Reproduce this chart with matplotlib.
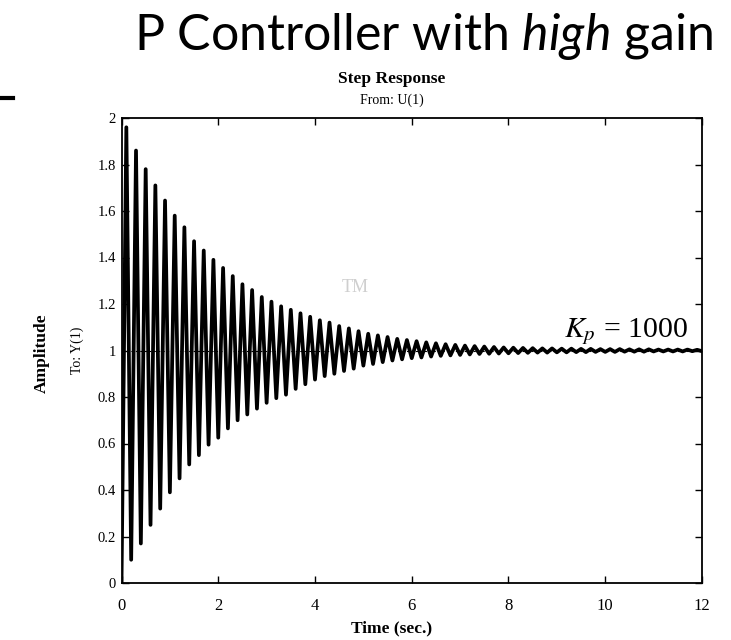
import numpy as np
import matplotlib.pyplot as plt
from matplotlib.lines import Line2D

plt.rcParams['font.family'] = 'Liberation Serif'
plt.rcParams['mathtext.fontset'] = 'custom'
plt.rcParams['mathtext.rm'] = 'Lato'
plt.rcParams['mathtext.it'] = 'Lato:italic'

# step response: one peak and one trough per cycle
first_peak_t = 0.1   # s
period = 0.2         # s, ~60 cycles over 12 s
peaks = [1.96, 1.86, 1.78, 1.71, 1.645, 1.58, 1.53, 1.47, 1.43, 1.39,
         1.355, 1.32, 1.285, 1.26, 1.23, 1.21, 1.19, 1.175, 1.16, 1.145,
         1.13, 1.12, 1.105, 1.095, 1.083, 1.072, 1.065, 1.058, 1.05, 1.045,
         1.04, 1.035, 1.031, 1.027, 1.024, 1.021, 1.019, 1.017, 1.015, 1.013,
         1.012, 1.011, 1.010, 1.009, 1.009, 1.008, 1.008, 1.007, 1.007, 1.006,
         1.006, 1.006, 1.005, 1.005, 1.005, 1.004, 1.004, 1.004, 1.004, 1.003]
troughs = [0.10, 0.17, 0.25, 0.32, 0.39, 0.45, 0.51, 0.55, 0.595, 0.625,
           0.665, 0.70, 0.725, 0.75, 0.775, 0.795, 0.81, 0.835, 0.855, 0.875,
           0.89, 0.90, 0.912, 0.922, 0.935, 0.942, 0.95, 0.957, 0.962, 0.967,
           0.97, 0.974, 0.977, 0.979, 0.981, 0.983, 0.985, 0.986, 0.987, 0.988,
           0.989, 0.990, 0.991, 0.991, 0.992, 0.992, 0.993, 0.993, 0.994, 0.994,
           0.994, 0.995, 0.995, 0.995, 0.996, 0.996, 0.996, 0.996, 0.997, 0.997]
xticks = [0, 2, 4, 6, 8, 10, 12]
yticks = [0, 0.2, 0.4, 0.6, 0.8, 1, 1.2, 1.4, 1.6, 1.8, 2]
ytick_labels = ['0', '0.2', '0.4', '0.6', '0.8', '1', '1.2', '1.4', '1.6', '1.8', '2']

t = [0.0]
y = [0.0]
for k, (p, q) in enumerate(zip(peaks, troughs)):
    tp = first_peak_t + k * period
    t += [tp, tp + period / 2]
    y += [p, q]

fig = plt.figure(figsize=(7.31, 6.4), dpi=100)
W, H = 731, 640
ax = fig.add_axes([121.5 / W, 1 - 583 / H, 580.5 / W, 465 / H])

ax.axhline(1, color='black', lw=0.8, ls=(0, (2, 2)), zorder=1)
ax.plot(t, y, color='black', lw=2.7, zorder=2)

ax.set_xlim(0, 12)
ax.set_ylim(0, 2)
ax.set_xticks(xticks)
ax.set_yticks(yticks)
ax.set_yticklabels(ytick_labels)
ax.tick_params(direction='in', top=True, right=True, length=5, width=1)
ax.tick_params(axis='x', labelsize=12, pad=11)
ax.tick_params(axis='y', labelsize=10.5, pad=4)
for s in ax.spines.values():
    s.set_linewidth(1.3)

ax.text(9.15, 1.058, r'$K_p$ = 1000', fontsize=21.5, ha='left', va='baseline',
        math_fontfamily='stix')

# slide title and MATLAB-style labels
fig.text(713 / W, 1 - 50 / H, r'P Controller with $\mathit{high}$ gain',
         fontsize=36, family='Lato', ha='right', va='baseline')
fig.text(392 / W, 1 - 79 / H, 'Step Response', fontsize=12.5, weight='bold',
         ha='center', va='center')
fig.text(392 / W, 1 - 100 / H, 'From: U(1)', fontsize=10,
         ha='center', va='center')
fig.text(392 / W, 1 - 628 / H, 'Time (sec.)', fontsize=12.5, weight='bold',
         ha='center', va='center')
fig.text(42 / W, 1 - 353 / H, 'Amplitude', fontsize=12.5, weight='bold',
         rotation=90, ha='center', va='center')
fig.text(77 / W, 1 - 350 / H, 'To: Y(1)', fontsize=10,
         rotation=90, ha='center', va='center')
fig.text(355 / W, 1 - 288 / H, 'TM', fontsize=13,
         color='#cfcfcf', ha='center', va='center')
fig.add_artist(Line2D([0, 13 / W], [1 - 98 / H] * 2, color='black', lw=3))

fig.savefig('out.png', dpi=100)
